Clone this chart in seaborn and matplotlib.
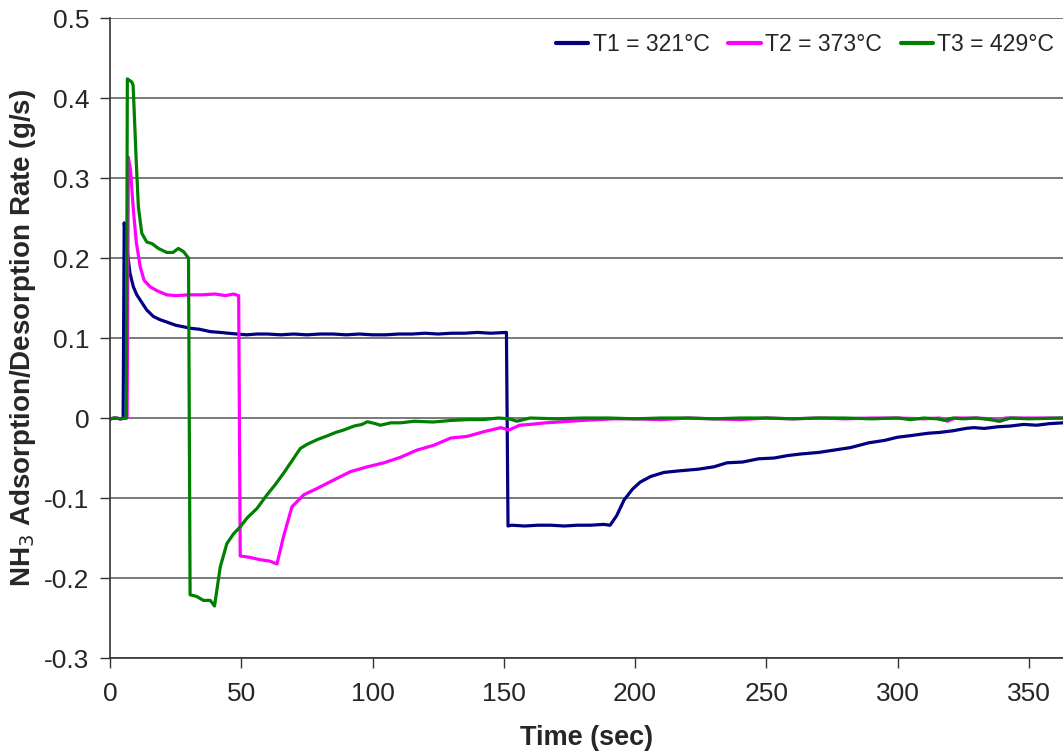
import matplotlib
matplotlib.use("Agg")
import matplotlib.pyplot as plt
import seaborn as sns
import pandas as pd

series_names = ["T1 = 321°C", "T2 = 373°C", "T3 = 429°C"]
series_colors = ["#000080", "#FF00FF", "#008000"]

t1_x = [0, 2, 4, 5.0, 5.4, 6.4, 7.6, 8.9, 10.2, 11.5, 14.0, 16.5, 19.0, 21.6, 25.0, 28.0, 31.0, 34.0,
        38.2, 42.0, 45.0, 48.4, 52.0, 56.0, 60.0, 65.0, 70.0, 75.0, 80.0, 85.0, 90.0, 95.0, 100.0,
        105.0, 110.0, 115.0, 120.0, 125.0, 130.0, 135.0, 140.0, 145.0, 151.0, 151.6, 153.0, 158.0,
        163.0, 168.0, 173.0, 178.0, 183.0, 188.0, 190.5, 193.0, 195.8, 199.0, 202.0, 206.0, 211.0,
        217.0, 224.0, 230.0, 235.0, 241.0, 247.0, 253.0, 258.0, 263.0, 270.0, 276.0, 282.0, 289.0,
        295.0, 300.0, 305.0, 311.7, 316.0, 321.0, 326.0, 329.0, 333.0, 338.0, 343.0, 348.0, 353.0,
        358.0, 363.0]
t1_y = [-0.001, 0.0, -0.001, 0.0, 0.244, 0.214, 0.181, 0.164, 0.154, 0.1475, 0.135, 0.127, 0.123,
        0.120, 0.116, 0.114, 0.112, 0.111, 0.108, 0.107, 0.106, 0.105, 0.104, 0.105, 0.105, 0.104,
        0.105, 0.104, 0.105, 0.105, 0.104, 0.105, 0.104, 0.104, 0.105, 0.105, 0.106, 0.105, 0.106,
        0.106, 0.107, 0.106, 0.107, -0.135, -0.134, -0.135, -0.134, -0.134, -0.135, -0.134, -0.134,
        -0.133, -0.134, -0.122, -0.1025, -0.089, -0.080, -0.073, -0.068, -0.066, -0.064, -0.061,
        -0.056, -0.055, -0.051, -0.050, -0.047, -0.045, -0.043, -0.040, -0.037, -0.031, -0.028,
        -0.024, -0.022, -0.019, -0.018, -0.016, -0.013, -0.012, -0.013, -0.011, -0.010, -0.008,
        -0.009, -0.007, -0.006]

t2_x = [0, 2, 4, 6.5, 7.0, 7.8, 8.9, 10.0, 11.5, 13.0, 15.3, 18.0, 21.6, 25.0, 30.0, 35.0, 40.0,
        44.0, 47.0, 49.0, 49.6, 53.0, 57.0, 61.0, 63.6, 66.1, 69.3, 73.8, 78.9, 85.2, 91.6, 98.0,
        104.3, 110.7, 117.0, 123.4, 129.8, 136.0, 142.5, 148.9, 152.0, 156.0, 160.0, 166.0, 173.0,
        180.0, 186.0, 192.0, 200.0, 210.0, 220.0, 230.0, 240.0, 250.0, 260.0, 270.0, 280.0, 290.0,
        300.0, 310.0, 316.0, 319.0, 322.0, 330.0, 336.0, 338.5, 341.0, 350.0, 363.0]
t2_y = [-0.001, 0.0, -0.001, 0.0, 0.326, 0.31, 0.26, 0.22, 0.189, 0.172, 0.164, 0.159, 0.154, 0.153,
        0.154, 0.154, 0.155, 0.153, 0.155, 0.153, -0.1725, -0.174, -0.177, -0.179, -0.1825, -0.148,
        -0.111, -0.096, -0.088, -0.0775, -0.067, -0.061, -0.056, -0.049, -0.040, -0.034, -0.025,
        -0.023, -0.017, -0.012, -0.015, -0.009, -0.008, -0.006, -0.0045, -0.003, -0.002, -0.001,
        -0.001, -0.002, 0.0, -0.001, -0.002, 0.0, -0.001, 0.0, -0.001, 0.0, 0.0, -0.001, 0.0,
        -0.004, 0.0, 0.0, -0.001, -0.004, 0.0, 0.0, 0.0]

t3_x = [0, 2, 4, 6.2, 6.6, 8.3, 8.8, 10.0, 10.8, 12.1, 14.0, 16.0, 18.4, 21.6, 24.0, 26.0, 28.0, 29.9,
        30.5, 33.0, 35.6, 38.2, 39.8, 42.0, 44.5, 47.0, 49.6, 52.2, 56.0, 59.8, 63.0, 66.1, 69.0,
        72.5, 75.0, 78.9, 83.0, 86.0, 89.0, 93.0, 96.0, 98.0, 101.0, 103.0, 107.0, 110.7, 116.0,
        123.0, 130.0, 136.0, 142.0, 148.0, 152.0, 155.0, 160.0, 170.0, 180.0, 190.0, 200.0, 210.0,
        220.0, 230.0, 240.0, 250.0, 260.0, 270.0, 280.0, 290.0, 300.0, 305.0, 310.0, 315.0, 318.0,
        321.0, 325.0, 330.0, 335.0, 339.0, 343.0, 350.0, 363.0]
t3_y = [-0.001, 0.0, -0.001, 0.0, 0.424, 0.420, 0.416, 0.32, 0.264, 0.231, 0.220, 0.218, 0.212,
        0.207, 0.207, 0.212, 0.208, 0.200, -0.221, -0.223, -0.228, -0.228, -0.235, -0.186, -0.157,
        -0.145, -0.136, -0.125, -0.113, -0.096, -0.083, -0.069, -0.055, -0.038, -0.033, -0.027,
        -0.022, -0.018, -0.015, -0.010, -0.008, -0.0046, -0.007, -0.009, -0.006, -0.006, -0.004,
        -0.005, -0.003, -0.002, -0.002, 0.0, -0.001, -0.004, 0.0, -0.001, 0.0, 0.0, -0.001, 0.0,
        0.0, -0.001, 0.0, 0.0, -0.001, 0.0, 0.0, -0.001, 0.0, -0.002, 0.0, -0.001, -0.003, 0.0,
        -0.001, 0.0, -0.002, -0.004, 0.0, -0.001, 0.0]

y_ticks = [-0.3, -0.2, -0.1, 0, 0.1, 0.2, 0.3, 0.4, 0.5]
y_tick_labels = ["-0.3", "-0.2", "-0.1", "0", "0.1", "0.2", "0.3", "0.4", "0.5"]
x_ticks = [0, 50, 100, 150, 200, 250, 300, 350]

frames = []
for name, xs, ys in zip(series_names, [t1_x, t2_x, t3_x], [t1_y, t2_y, t3_y]):
    frames.append(pd.DataFrame({"Time": xs, "Rate": ys, "Series": name}))
df = pd.concat(frames, ignore_index=True)

sns.set_style("white")
plt.rcParams["font.family"] = ["Liberation Sans", "DejaVu Sans"]

fig = plt.figure(figsize=(10.63, 7.52), dpi=100)
ax = fig.add_axes([0.1035, 0.125, 0.8965, 0.851])

sns.lineplot(data=df, x="Time", y="Rate", hue="Series", palette=series_colors,
             hue_order=series_names, estimator=None, sort=False, linewidth=2.3, ax=ax)

ax.set_xlim(0, 363)
ax.set_ylim(-0.3, 0.5)
ax.set_yticks(y_ticks)
ax.set_yticklabels(y_tick_labels)
ax.set_xticks(x_ticks)
ax.tick_params(axis="both", labelsize=19, direction="out", length=7, width=1.0,
               color="#333333", bottom=True, left=True)
ax.tick_params(axis="x", pad=10)
ax.tick_params(axis="y", pad=8)
ax.yaxis.grid(True, color="#555555", linewidth=1.1)
ax.xaxis.grid(False)
ax.set_axisbelow(True)
for side in ["top", "right"]:
    ax.spines[side].set_visible(False)
for side in ["left", "bottom"]:
    ax.spines[side].set_color("#333333")
    ax.spines[side].set_linewidth(1.2)

ax.set_xlabel("Time (sec)", fontsize=19.5, fontweight="bold", labelpad=14)
ax.set_ylabel("NH$_3$ Adsorption/Desorption Rate (g/s)", fontsize=20, fontweight="bold", labelpad=4)
ax.yaxis.set_label_coords(-0.076, 0.5)

leg = ax.legend(loc="upper right", bbox_to_anchor=(1.008, 1.002), ncol=3, frameon=False,
                fontsize=16.6, handlelength=1.4, handletextpad=0.2, columnspacing=0.8,
                borderaxespad=0.3)
for line in leg.get_lines():
    line.set_linewidth(3)

fig.savefig("out.png", dpi=100)
